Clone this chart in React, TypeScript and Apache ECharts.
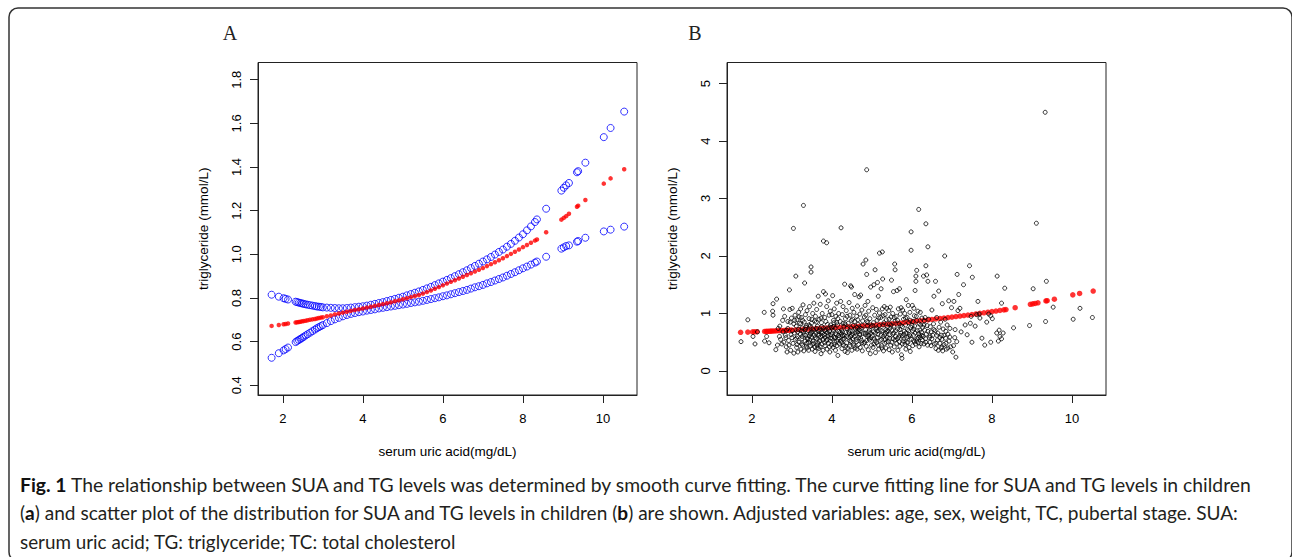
import React, { useEffect, useRef } from "react";
import * as echarts from "echarts";

// ---------- data ----------
const xTicks = [2, 4, 6, 8, 10];
const yTicksA = [0.4, 0.6, 0.8, 1.0, 1.2, 1.4, 1.6, 1.8];
const yTicksB = [0, 1, 2, 3, 4, 5];

// SUA values at which the fitted curve and its confidence band are shown (panel A / red in B)
const sua = [
  1.72, 1.9, 2.02, 2.07, 2.13, 2.32, 2.36, 2.4, 2.44, 2.48, 2.52, 2.57, 2.62, 2.68, 2.74, 2.8, 2.85, 2.9, 2.95,
  3.0, 3.1, 3.2, 3.3, 3.4, 3.5, 3.6, 3.7, 3.8, 3.9, 4.0, 4.1, 4.2, 4.3, 4.4, 4.5, 4.6, 4.7, 4.8, 4.9,
  5.0, 5.1, 5.2, 5.3, 5.4, 5.5, 5.6, 5.7, 5.8, 5.9, 6.0, 6.1, 6.2, 6.3, 6.4, 6.5, 6.6, 6.7, 6.8, 6.9,
  7.0, 7.1, 7.2, 7.3, 7.4, 7.5, 7.6, 7.7, 7.8, 7.9, 8.0, 8.1, 8.2, 8.3, 8.35, 8.58, 8.96, 9.02, 9.08, 9.15,
  9.35, 9.38, 9.56, 10.02, 10.19, 10.53,
];
const upperCI = [
  0.815, 0.806, 0.799, 0.796, 0.793, 0.783, 0.781, 0.779, 0.777, 0.775, 0.773, 0.771, 0.769, 0.767, 0.765, 0.763, 0.761, 0.76, 0.759,
  0.757, 0.756, 0.755, 0.754, 0.753, 0.753, 0.754, 0.756, 0.758, 0.76, 0.762, 0.765, 0.769, 0.773, 0.777, 0.781, 0.786, 0.791, 0.796, 0.801,
  0.806, 0.812, 0.818, 0.824, 0.83, 0.837, 0.844, 0.851, 0.859, 0.867, 0.875, 0.883, 0.891, 0.9, 0.909, 0.918, 0.927, 0.937, 0.947, 0.957,
  0.967, 0.977, 0.988, 0.999, 1.011, 1.022, 1.035, 1.048, 1.062, 1.077, 1.092, 1.11, 1.128, 1.148, 1.16, 1.209, 1.292, 1.305, 1.316, 1.327,
  1.376, 1.381, 1.42, 1.537, 1.579, 1.654,
];
const fitted = [
  0.672, 0.676, 0.68, 0.681, 0.683, 0.688, 0.689, 0.69, 0.691, 0.693, 0.694, 0.696, 0.698, 0.7, 0.702, 0.704, 0.706, 0.708, 0.71,
  0.712, 0.716, 0.72, 0.725, 0.729, 0.733, 0.737, 0.741, 0.745, 0.748, 0.752, 0.756, 0.76, 0.764, 0.768, 0.772, 0.776, 0.78, 0.785, 0.789,
  0.794, 0.799, 0.804, 0.809, 0.814, 0.82, 0.827, 0.834, 0.842, 0.85, 0.858, 0.866, 0.874, 0.881, 0.889, 0.897, 0.905, 0.913, 0.921, 0.929,
  0.937, 0.946, 0.955, 0.964, 0.973, 0.982, 0.992, 1.002, 1.012, 1.022, 1.033, 1.043, 1.053, 1.063, 1.068, 1.101, 1.159, 1.167, 1.175, 1.186,
  1.218, 1.223, 1.249, 1.324, 1.348, 1.39,
];
const lowerCI = [
  0.526, 0.547, 0.56, 0.566, 0.573, 0.598, 0.603, 0.608, 0.612, 0.617, 0.622, 0.628, 0.634, 0.641, 0.648, 0.655, 0.661, 0.666, 0.671,
  0.676, 0.685, 0.694, 0.702, 0.709, 0.716, 0.722, 0.727, 0.731, 0.735, 0.738, 0.742, 0.745, 0.748, 0.752, 0.755, 0.758, 0.761, 0.764, 0.767,
  0.77, 0.773, 0.777, 0.78, 0.783, 0.787, 0.791, 0.795, 0.799, 0.803, 0.808, 0.812, 0.817, 0.822, 0.827, 0.832, 0.837, 0.843, 0.849, 0.854,
  0.86, 0.867, 0.873, 0.88, 0.887, 0.894, 0.902, 0.91, 0.918, 0.927, 0.936, 0.944, 0.953, 0.962, 0.967, 0.989, 1.026, 1.032, 1.038, 1.041,
  1.058, 1.061, 1.076, 1.105, 1.113, 1.127,
];

const observed: [number, number][] = [
  [1.73,0.51],[1.90,0.89],[2.03,0.60],[2.08,0.47],[2.14,0.68],[2.31,1.02],[2.32,0.52],[2.37,0.60],
  [2.43,0.49],[2.52,1.04],[2.53,1.17],[2.53,0.97],[2.60,0.37],[2.62,1.25],[2.64,0.45],[2.69,0.60],[2.70,0.78],[2.66,0.74],[2.72,0.55],[2.75,0.47],[2.78,0.68],[2.79,1.08],[2.77,0.88],
  [2.82,0.95],[2.84,0.62],[2.86,0.42],[2.88,0.33],[2.90,0.74],[2.92,0.53],[2.94,1.41],[2.95,1.07],[2.96,0.85],[2.97,0.36],[2.98,0.63],[2.99,0.92],[2.93,0.45],[2.87,0.71],[2.85,0.58],
  [3.01,1.09],[3.03,0.48],[3.04,2.48],[3.05,0.31],[3.06,0.66],[3.08,0.97],[3.09,0.55],[3.10,1.65],[3.11,0.78],[3.12,0.41],[3.13,0.89],[3.14,0.60],[3.15,0.33],[3.16,0.72],[3.17,1.02],[3.18,0.50],[3.19,0.83],[3.02,0.70],[3.07,0.88],[3.13,0.46],
  [3.21,0.64],[3.22,1.08],[3.23,0.38],[3.24,0.93],[3.25,0.56],[3.26,0.75],[3.27,0.45],[3.28,1.15],[3.29,2.88],[3.29,0.68],[3.30,0.35],[3.31,0.85],[3.32,1.53],[3.33,0.52],[3.34,0.98],[3.35,0.62],[3.36,0.43],[3.37,0.79],[3.38,1.05],[3.39,0.57],[3.22,0.82],[3.26,0.60],[3.34,0.72],[3.38,0.40],
  [3.41,0.70],[3.42,0.36],[3.43,0.91],[3.44,1.12],[3.45,0.54],[3.46,0.66],[3.47,0.44],[3.48,1.81],[3.48,1.72],[3.49,0.83],[3.50,0.59],[3.51,0.38],[3.52,1.00],[3.53,0.73],[3.54,0.48],[3.55,1.18],[3.56,0.62],[3.57,0.87],[3.58,0.34],[3.59,0.95],[3.42,0.50],[3.46,0.78],[3.50,0.68],[3.53,0.52],[3.57,0.42],[3.44,0.61],
  [3.61,0.56],[3.62,1.07],[3.63,0.45],[3.64,0.78],[3.65,0.64],[3.66,1.30],[3.67,0.39],[3.68,0.90],[3.69,0.51],[3.70,0.71],[3.71,1.16],[3.72,0.59],[3.73,0.30],[3.74,0.84],[3.75,0.47],[3.76,1.00],[3.77,0.66],[3.78,0.55],[3.79,2.26],[3.79,1.38],[3.62,0.74],[3.65,0.49],[3.68,0.62],[3.71,0.42],[3.75,0.77],[3.78,0.36],
  [3.81,0.63],[3.82,0.93],[3.83,0.44],[3.84,1.34],[3.85,0.72],[3.86,0.53],[3.87,2.23],[3.87,1.12],[3.88,0.38],[3.89,0.81],[3.90,0.61],[3.91,1.22],[3.92,0.48],[3.93,0.97],[3.94,0.69],[3.95,0.33],[3.96,1.04],[3.97,0.57],[3.98,0.76],[3.99,0.45],[3.83,0.58],[3.88,0.67],[3.92,0.73],[3.96,0.52],
  [4.01,0.66],[4.02,1.31],[4.03,0.41],[4.04,0.88],[4.05,0.59],[4.06,1.08],[4.07,0.50],[4.08,0.74],[4.09,0.36],[4.10,0.95],[4.11,0.63],[4.12,1.18],[4.13,0.44],[4.14,0.80],[4.15,0.27],[4.16,0.55],[4.17,1.00],[4.18,0.69],[4.19,0.47],[4.04,0.70],[4.08,0.58],[4.12,0.84],[4.17,0.62],
  [4.21,0.86],[4.22,1.21],[4.23,2.49],[4.23,0.52],[4.24,0.71],[4.25,0.39],[4.26,0.98],[4.27,0.61],[4.28,1.12],[4.29,0.45],[4.30,0.78],[4.31,0.57],[4.32,1.51],[4.33,0.34],[4.34,0.91],[4.35,0.67],[4.36,1.05],[4.37,0.49],[4.38,0.74],[4.39,0.32],[4.24,0.64],[4.28,0.55],[4.33,0.82],[4.37,0.60],
  [4.41,0.83],[4.42,0.58],[4.43,1.19],[4.44,0.43],[4.45,0.97],[4.46,0.70],[4.47,1.48],[4.48,0.51],[4.49,1.46],[4.49,0.88],[4.50,0.36],[4.51,1.09],[4.52,0.64],[4.53,0.79],[4.54,0.47],[4.55,1.02],[4.56,0.60],[4.57,1.33],[4.58,0.40],[4.59,0.73],[4.44,0.66],[4.48,0.75],[4.53,0.56],[4.57,0.86],
  [4.61,0.55],[4.62,0.95],[4.63,0.38],[4.64,1.13],[4.65,0.68],[4.66,0.81],[4.67,0.46],[4.68,1.29],[4.69,0.62],[4.70,0.99],[4.71,0.41],[4.72,1.32],[4.73,0.74],[4.74,0.53],[4.75,1.06],[4.76,0.35],[4.77,0.87],[4.78,1.86],[4.79,0.65],[4.63,0.76],[4.67,0.58],[4.71,0.70],[4.75,0.49],
  [4.81,0.94],[4.82,0.50],[4.83,1.14],[4.84,0.72],[4.85,1.93],[4.86,0.43],[4.87,1.68],[4.87,3.50],[4.88,0.86],[4.89,0.60],[4.90,1.21],[4.91,0.37],[4.92,1.04],[4.93,0.68],[4.94,0.54],[4.95,0.91],[4.96,0.30],[4.97,1.46],[4.98,0.77],[4.99,0.45],[4.84,0.63],[4.89,0.79],[4.93,0.57],[4.97,0.66],
  [5.01,0.61],[5.02,1.10],[5.03,0.41],[5.04,0.84],[5.05,1.50],[5.06,0.56],[5.07,0.97],[5.08,1.76],[5.09,0.32],[5.10,0.73],[5.11,1.07],[5.12,0.49],[5.13,0.88],[5.14,1.54],[5.15,0.64],[5.16,1.30],[5.17,0.38],[5.18,0.79],[5.19,2.05],[5.19,1.01],[5.04,0.68],[5.08,0.52],[5.12,0.75],[5.16,0.45],
  [5.21,0.53],[5.22,0.93],[5.23,1.43],[5.24,0.44],[5.25,0.70],[5.26,2.07],[5.26,1.08],[5.27,1.60],[5.28,0.60],[5.29,0.35],[5.30,0.84],[5.31,1.12],[5.32,0.48],[5.33,0.98],[5.34,0.66],[5.35,0.40],[5.36,0.89],[5.37,1.09],[5.38,0.58],[5.39,0.76],[5.23,0.62],[5.28,0.80],[5.33,0.55],[5.37,0.68],
  [5.41,0.51],[5.42,1.05],[5.43,0.37],[5.44,0.82],[5.45,0.63],[5.46,1.11],[5.47,0.45],[5.48,0.94],[5.49,1.58],[5.50,0.71],[5.51,0.33],[5.52,1.00],[5.53,0.56],[5.54,1.38],[5.55,0.78],[5.56,0.42],[5.57,1.86],[5.58,1.76],[5.58,0.87],[5.59,0.60],[5.45,0.74],[5.50,0.50],[5.55,0.66],
  [5.61,0.95],[5.62,0.48],[5.63,1.40],[5.64,0.73],[5.65,0.36],[5.66,1.08],[5.67,0.59],[5.68,0.82],[5.69,1.43],[5.70,0.43],[5.71,0.99],[5.72,0.66],[5.73,1.10],[5.74,0.28],[5.75,0.22],[5.76,0.77],[5.77,1.06],[5.78,0.52],[5.79,0.90],[5.64,0.56],[5.70,0.62],[5.76,0.47],
  [5.81,0.69],[5.82,1.00],[5.83,0.46],[5.84,0.80],[5.85,0.38],[5.86,1.24],[5.87,0.58],[5.88,0.93],[5.89,0.72],[5.90,0.50],[5.91,1.14],[5.92,0.84],[5.93,0.41],[5.94,0.63],[5.95,1.02],[5.96,0.34],[5.97,0.76],[5.98,2.42],[5.98,2.10],[5.99,0.55],[5.85,0.66],[5.91,0.60],[5.96,0.88],
  [6.01,1.14],[6.02,0.44],[6.03,0.86],[6.04,0.62],[6.05,1.09],[6.06,0.51],[6.07,0.78],[6.08,1.40],[6.09,0.47],[6.10,1.65],[6.10,1.56],[6.11,0.95],[6.12,1.75],[6.13,0.56],[6.14,0.70],[6.15,1.04],[6.16,0.49],[6.17,2.81],[6.18,0.82],[6.19,0.61],[6.05,0.73],[6.12,0.52],[6.17,0.65],
  [6.21,1.02],[6.22,0.80],[6.23,0.48],[6.24,0.67],[6.25,0.92],[6.26,0.54],[6.27,0.76],[6.28,0.60],[6.29,1.65],[6.30,0.47],[6.31,0.87],[6.32,0.71],[6.33,0.93],[6.34,0.56],[6.35,2.56],[6.35,1.83],[6.36,0.64],[6.37,1.67],[6.38,0.79],[6.39,0.45],[6.40,2.16],[6.40,1.56],
  [6.42,0.90],[6.44,0.58],[6.46,0.77],[6.48,0.44],[6.50,1.06],[6.52,0.62],[6.54,0.82],[6.55,1.30],[6.56,0.47],[6.58,0.70],[6.59,1.56],[6.60,0.39],[6.62,0.93],[6.64,0.54],[6.66,0.36],[6.67,1.39],[6.68,0.76],[6.45,0.50],
  [6.70,0.48],[6.72,0.85],[6.73,0.40],[6.74,0.62],[6.76,1.17],[6.77,0.35],[6.78,0.73],[6.80,0.46],[6.82,2.00],[6.83,0.90],[6.84,0.57],[6.86,0.38],[6.88,0.80],[6.90,0.64],[6.92,1.22],[6.93,0.52],[6.95,0.74],[6.97,0.42],[6.99,1.10],[6.75,0.55],[6.85,0.69],
  [7.02,0.33],[7.05,1.21],[7.07,0.58],[7.10,0.24],[7.12,0.51],[7.13,1.68],[7.15,1.05],[7.17,1.33],[7.20,1.09],[7.23,0.68],[7.29,1.50],[7.33,0.80],[7.38,0.63],[7.44,1.83],[7.46,0.83],[7.48,0.95],[7.51,1.63],[7.50,0.50],[7.04,0.44],[7.08,0.72],
  [7.62,0.98],[7.65,1.21],[7.70,0.92],[7.75,0.57],[7.82,0.45],[7.87,0.85],[7.92,0.99],[7.97,0.50],[8.01,0.91],[7.97,0.96],[7.58,0.78],[7.68,0.99],
  [8.12,0.66],[8.13,1.65],[8.16,0.52],[8.18,0.71],[8.20,0.60],[8.24,0.56],[8.24,1.18],[8.28,0.66],[8.32,1.44],[8.54,0.75],[8.94,0.79],[9.03,1.43],[9.11,2.57],[9.33,4.50],[9.34,0.86],[9.36,1.56],[9.53,1.11],[10.03,0.90],[10.20,1.09],[10.51,0.93],
  // further points inside the dense core
  [3.05,0.82],[3.12,0.57],[3.18,0.94],[3.24,0.47],[3.27,0.88],[3.31,0.63],[3.35,0.76],[3.40,0.55],[3.43,0.80],[3.47,0.64],[3.52,0.46],[3.55,0.71],[3.58,0.58],[3.61,0.85],[3.64,0.41],[3.67,0.69],[3.70,0.53],[3.73,0.92],[3.76,0.61],[3.79,0.75],
  [3.82,0.49],[3.85,0.86],[3.88,0.55],[3.91,0.64],[3.94,0.42],[3.97,0.80],[4.00,0.57],[4.03,0.77],[4.06,0.46],[4.09,0.65],[4.12,0.52],[4.15,0.91],[4.18,0.58],[4.21,0.67],[4.25,0.49],[4.28,0.83],[4.31,0.62],[4.35,0.43],[4.38,0.95],[4.42,0.68],
  [4.45,0.53],[4.49,0.62],[4.52,0.90],[4.55,0.44],[4.58,0.66],[4.62,0.51],[4.65,0.89],[4.68,0.72],[4.72,0.57],[4.76,0.79],[4.80,0.48],[4.83,0.66],[4.87,0.53],[4.90,0.84],[4.94,0.71],[4.98,0.58],[5.02,0.79],[5.05,0.47],[5.09,0.66],[5.13,0.58],
  [5.17,0.92],[5.21,0.71],[5.24,0.55],[5.28,0.96],[5.32,0.63],[5.36,0.50],[5.40,0.70],[5.44,0.57],[5.48,0.80],[5.52,0.64],[5.56,0.93],[5.60,0.70],[5.64,0.88],[5.68,0.51],[5.72,0.79],[5.76,0.61],[5.80,0.56],[5.84,0.92],[5.88,0.49],[5.92,0.70],
  [5.96,0.61],[6.00,0.79],[6.04,0.53],[6.08,0.66],[6.12,0.88],[6.16,0.58],[6.20,0.71],[6.25,0.62],[6.30,0.80],[6.35,0.50],[6.40,0.69],[6.45,0.61],[6.50,0.56],[6.55,0.72],[6.60,0.48],[6.65,0.66],[6.70,0.58],[6.75,0.42],[6.80,0.62],[6.85,0.48],
  [6.90,0.40],[6.95,0.59],[3.00,0.58],[2.90,0.86],[2.80,0.50],[3.15,0.68],[3.37,0.48],[3.60,0.66],[3.82,0.70],[4.05,0.84],[4.26,0.68],[4.47,0.60],[4.70,0.64],[4.92,0.62],[5.15,0.70],[5.35,0.72],[5.58,0.54],[5.80,0.64],[6.02,0.70],[6.22,0.58],
  [6.48,0.68],[3.50,0.90],[3.74,0.68],[4.00,0.98],[4.40,0.40],[4.85,0.97],[5.25,0.40],[5.70,0.72],[6.18,0.42],[6.62,0.62],[3.25,0.70],[3.97,0.63],[4.60,0.69],[5.43,0.90],[6.06,0.96],
];

const panelLetters = ["A", "B"];
// caption, one entry per printed line; a line may be split into pieces laid end to end
const captionLines: string[][] = [
  ["{b|Fig. 1} The relationship between SUA and TG levels was determined by smooth curve fitting. The curve fitting line for SUA and TG levels in children"],
  [
    "({b|a}) and scatter plot of the distribution for SUA and TG levels in ",
    "children ({b|b}) are shown. Adjusted variables: age, sex, weight, TC, pubertal stage. SUA:",
  ],
  ["serum uric acid; TG: triglyceride; TC: total cholesterol"],
];
// printed width of each caption line in the reference (px)
const captionWidths = [1231, 1217, 435];

// ---------- helpers ----------
const CAP_FONT = "Lato";
const CAP_SIZE = 19;
const RENDER_RATIO = 0.991; // rendered / measured text width observed for this font
function measureRich(line: string): number {
  const c: any = document.createElement("canvas").getContext("2d");
  if (!c) return 1;
  try { c.fontKerning = "none"; } catch (e) {}
  let w = 0;
  const re = /\{b\|([^}]*)\}/g;
  let last = 0;
  let m: RegExpExecArray | null;
  while ((m = re.exec(line))) {
    c.font = `${CAP_SIZE}px ${CAP_FONT}`;
    w += c.measureText(line.slice(last, m.index)).width;
    c.font = `bold ${CAP_SIZE}px ${CAP_FONT}`;
    w += c.measureText(m[1]).width;
    last = re.lastIndex;
  }
  c.font = `${CAP_SIZE}px ${CAP_FONT}`;
  w += c.measureText(line.slice(last)).width;
  return w;
}

const AXIS_COLOR = "#222";
const FONT = "Liberation Sans, Arial, sans-serif";

function xAxisFor(gridIndex: number) {
  return {
    gridIndex,
    type: "value",
    min: 1.38,
    max: 10.85,
    splitLine: { show: false },
    axisLine: { show: true, onZero: false, lineStyle: { color: AXIS_COLOR, width: 1 } },
    axisTick: { show: true, length: 8, customValues: xTicks, lineStyle: { color: AXIS_COLOR } },
    axisLabel: { customValues: xTicks, margin: 17, fontSize: 13, color: "#000", fontFamily: FONT },
    name: "serum uric acid(mg/dL)",
    nameLocation: "middle",
    nameGap: 49,
    nameTextStyle: { fontSize: 13.5, color: "#000", fontFamily: FONT },
  };
}

function yAxisFor(gridIndex: number, min: number, max: number, ticks: number[], dec: number) {
  return {
    gridIndex,
    type: "value",
    min,
    max,
    splitLine: { show: false },
    axisLine: { show: true, onZero: false, lineStyle: { color: AXIS_COLOR, width: 1 } },
    axisTick: { show: true, length: 8, customValues: ticks, lineStyle: { color: AXIS_COLOR } },
    axisLabel: {
      customValues: ticks,
      rotate: 90,
      margin: 15,
      fontSize: 13,
      color: "#000",
      fontFamily: FONT,
      formatter: (v: number) => v.toFixed(dec),
    },
    name: "triglyceride (mmol/L)",
    nameLocation: "middle",
    nameGap: 48,
    nameTextStyle: { fontSize: 13.5, color: "#000", fontFamily: FONT },
  };
}

export default function App() {
  const ref = useRef<HTMLDivElement>(null);
  useEffect(() => {
    if (!ref.current) return;
    const chart = echarts.init(ref.current, undefined, { renderer: "svg" });
    const capY = [485, 513, 541];

    const fitPts = sua.map((x, i) => [x, fitted[i]]);
    const upPts = sua.map((x, i) => [x, upperCI[i]]);
    const loPts = sua.map((x, i) => [x, lowerCI[i]]);

    const captionEls: any[] = [];
    captionLines.forEach((pieces, li) => {
      const total = pieces.reduce((s, t) => s + measureRich(t), 0);
      const scale = captionWidths[li] / (total * RENDER_RATIO);
      let offset = 20;
      pieces.forEach((t) => {
        captionEls.push({
          type: "text",
          x: offset,
          y: capY[li],
          scaleX: scale,
          style: {
            text: t,
            font: `${CAP_SIZE}px ${CAP_FONT}`,
            fill: "#231f20",
            align: "left",
            verticalAlign: "middle",
            textAlign: "left",
            textVerticalAlign: "middle",
            rich: {
              b: { font: `bold ${CAP_SIZE}px ${CAP_FONT}`, fill: "#111", verticalAlign: "middle" },
            },
          },
        });
        offset += measureRich(t) * RENDER_RATIO * scale;
      });
    });

    const option: any = {
      animation: false,
      backgroundColor: "#fff",
      grid: [
        { left: 258, top: 62.5, width: 379, height: 332.5, show: true, borderColor: AXIS_COLOR, borderWidth: 1 },
        { left: 727, top: 62.5, width: 379, height: 332.5, show: true, borderColor: AXIS_COLOR, borderWidth: 1 },
      ],
      xAxis: [xAxisFor(0), xAxisFor(1)],
      yAxis: [yAxisFor(0, 0.3555, 1.879, yTicksA, 1), yAxisFor(1, -0.418, 5.366, yTicksB, 0)],
      series: [
        {
          type: "scatter", xAxisIndex: 0, yAxisIndex: 0, data: upPts, symbol: "circle", symbolSize: 7,
          itemStyle: { color: "rgba(0,0,0,0)", borderColor: "#0000ff", borderWidth: 1 },
        },
        {
          type: "scatter", xAxisIndex: 0, yAxisIndex: 0, data: loPts, symbol: "circle", symbolSize: 7,
          itemStyle: { color: "rgba(0,0,0,0)", borderColor: "#0000ff", borderWidth: 1 },
        },
        {
          type: "scatter", xAxisIndex: 0, yAxisIndex: 0, data: fitPts, symbol: "circle", symbolSize: 4.5,
          itemStyle: { color: "#ff0000" },
        },
        {
          type: "scatter", xAxisIndex: 1, yAxisIndex: 1, data: fitPts, symbol: "circle", symbolSize: 5.5,
          itemStyle: { color: "#ff0000" },
        },
        {
          type: "scatter", xAxisIndex: 1, yAxisIndex: 1, data: observed, symbol: "circle", symbolSize: 4,
          itemStyle: { color: "rgba(0,0,0,0)", borderColor: "#000", borderWidth: 1 },
        },
      ],
      graphic: [
        {
          type: "rect",
          shape: { x: 9, y: 8, width: 1283, height: 553, r: 9 },
          style: { fill: "none", stroke: "#333", lineWidth: 1.5 },
          silent: true,
        },
        ...panelLetters.map((t, i) => ({
          type: "text",
          x: i === 0 ? 230 : 695,
          y: 33,
          style: {
            text: t,
            font: '20px "Liberation Serif", "DejaVu Serif", serif',
            fill: "#222",
            align: "center",
            verticalAlign: "middle",
            textAlign: "center",
            textVerticalAlign: "middle",
          },
        })),
        ...captionEls,
      ],
    };
    chart.setOption(option);
    return () => chart.dispose();
  }, []);
  return (
    <>
      <style>{"#root svg text{font-kerning:none;font-variant-ligatures:none;}"}</style>
      <div
        ref={ref}
        style={{ position: "fixed", left: 0, top: 0, width: 1292, height: 557, background: "#fff" }}
      />
    </>
  );
}
